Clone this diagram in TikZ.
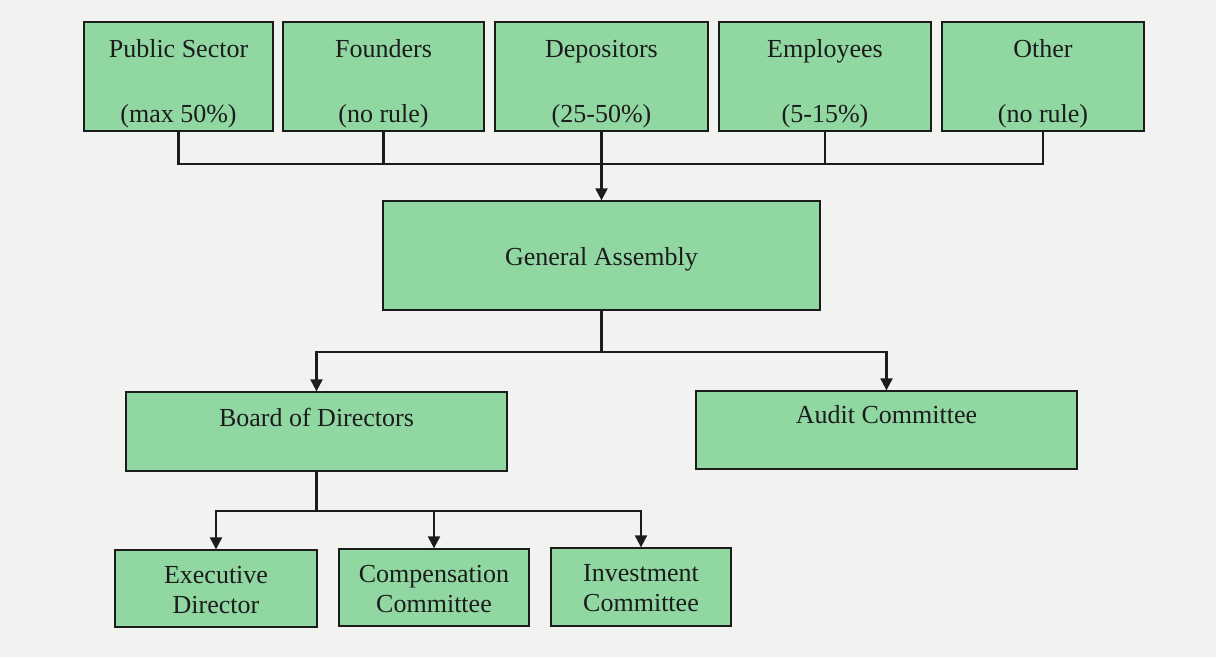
\documentclass[tikz,border=0pt]{standalone}
\usepackage{fontspec}
\setmainfont{Liberation Serif}
\usetikzlibrary{arrows.meta}
\definecolor{paper}{RGB}{242,242,240}
\definecolor{boxgreen}{RGB}{144,215,162}
\definecolor{ink}{RGB}{28,28,28}
\begin{document}
\begin{tikzpicture}[x=1pt,y=-1pt,
  box/.style={draw=ink, line width=1.3pt, fill=boxgreen, inner sep=0pt},
  lbl/.style={font=\fontsize{26}{30}\selectfont, text=ink, inner sep=0pt, align=center, anchor=base},
  conn/.style={draw=ink, line width=2.2pt},
  arr/.style={conn, -{Triangle[width=12pt,length=12pt]}}]
% page and background
\fill[paper] (0,0) rectangle (1216,657);
\useasboundingbox (0,0) rectangle (1216,657);

% shareholder groups
\node[box, minimum width=189pt, minimum height=109pt] (ps) at (178.5,76.5) {};
\node[box, minimum width=201pt, minimum height=109pt] (fo) at (383.5,76.5) {};
\node[box, minimum width=213pt, minimum height=109pt] (de) at (601.5,76.5) {};
\node[box, minimum width=212pt, minimum height=109pt] (em) at (825,76.5) {};
\node[box, minimum width=202pt, minimum height=109pt] (ot) at (1043,76.5) {};
\node[lbl] (ps1) at (178.5,57) {Public Sector};
\node[lbl] (ps2) at (178.5,122) {(max 50\%)};
\node[lbl] (fo1) at (383.5,57) {Founders};
\node[lbl] (fo2) at (383.5,122) {(no rule)};
\node[lbl] (de1) at (601.5,57) {Depositors};
\node[lbl] (de2) at (601.5,122) {(25-50\%)};
\node[lbl] (em1) at (825,57) {Employees};
\node[lbl] (em2) at (825,122) {(5-15\%)};
\node[lbl] (ot1) at (1043,57) {Other};
\node[lbl] (ot2) at (1043,122) {(no rule)};

% governing bodies
\node[box, minimum width=437pt, minimum height=109pt] (ga) at (601.5,255.5) {};
\node[lbl] (ga1) at (601.5,265) {General Assembly};
\node[box, minimum width=381pt, minimum height=79pt] (bd) at (316.5,431.5) {};
\node[lbl] (bd1) at (316.5,426) {Board of Directors};
\node[box, minimum width=381pt, minimum height=78pt] (au) at (886.5,430) {};
\node[lbl] (au1) at (886.5,423) {Audit Committee};

% committees under the board (base sits on the second line)
\node[box, minimum width=202pt, minimum height=77pt] (ex) at (216,588.5) {};
\node[lbl] (ex1) at (216,613) {Executive\\Director};
\node[box, minimum width=190pt, minimum height=77pt] (co) at (434,587.5) {};
\node[lbl] (co1) at (434,612) {Compensation\\Committee};
\node[box, minimum width=180pt, minimum height=78pt] (iv) at (641,587) {};
\node[lbl] (iv1) at (641,611) {Investment\\Committee};

% shareholder bus into the general assembly
\coordinate (topbus) at (0,164);
\draw[conn] (ps.south) -- (ps.south |- topbus) -- (ot.south |- topbus) -- (ot.south);
\draw[conn] (fo.south) -- (fo.south |- topbus);
\draw[conn] (em.south) -- (em.south |- topbus);
\draw[arr] (de.south) -- (ga.north);

% general assembly to board and audit
\draw[arr] (ga.south) -- ++(0,41) -| (bd.north);
\draw[arr] (ga.south) -- ++(0,41) -| (au.north);

% board to its committees
\draw[arr] (bd.south) -- ++(0,39) -| (ex.north);
\draw[arr] (bd.south) -- ++(0,39) -| (co.north);
\draw[arr] (bd.south) -- ++(0,39) -| (iv.north);
\end{tikzpicture}
\end{document}
